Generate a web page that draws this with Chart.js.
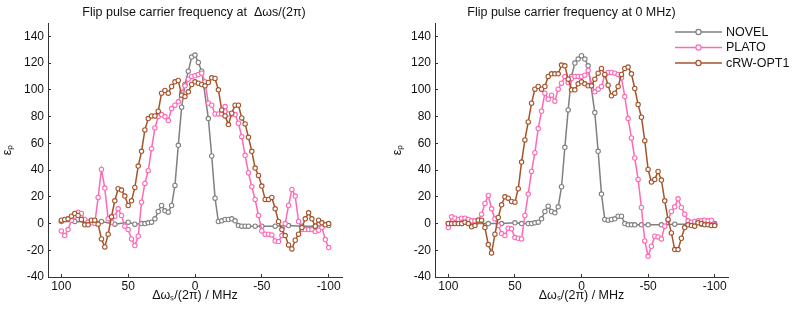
<!DOCTYPE html>
<html><head><meta charset="utf-8">
<script src="https://cdn.jsdelivr.net/npm/chart.js@4.4.1/dist/chart.umd.min.js"></script>
<style>
html,body{margin:0;padding:0;background:#fff;}
#wrap{position:relative;width:793px;height:312px;overflow:hidden;background:#fff;}
canvas{position:absolute;top:0;}
#c1{left:0;} #c2{left:390px;}
</style></head><body>
<div id="wrap"><canvas id="c1" width="390" height="312"></canvas><canvas id="c2" width="403" height="312"></canvas></div>
<script>
// Frequency offsets (MHz) for PLATO and cRW-OPT1
const freq = [100, 97.5, 95, 92.5, 90, 87.5, 85, 82.5, 80, 77.5,
  75, 72.5, 70, 67.5, 65, 62.5, 60, 57.5, 55, 52.5,
  50, 47.5, 45, 42.5, 40, 37.5, 35, 32.5, 30, 27.5,
  25, 22.5, 20, 17.5, 15, 12.5, 10, 7.5, 5, 2.5,
  0, -2.5, -5, -7.5, -10, -12.5, -15, -17.5, -20, -22.5,
  -25, -27.5, -30, -32.5, -35, -37.5, -40, -42.5, -45, -47.5,
  -50, -52.5, -55, -57.5, -60, -62.5, -65, -67.5, -70, -72.5,
  -75, -77.5, -80, -82.5, -85, -87.5, -90, -92.5, -95, -97.5,
  -100];
// Frequency offsets (MHz) for NOVEL
const novelFreq = [100, 90, 80, 70, 60, 50, 45, 40, 37.5, 35,
  32.5, 30, 27.5, 25, 22.5, 20, 17.5, 15, 12.5, 10,
  7.5, 5, 2.5, 0, -2.5, -5, -10, -12.5, -15, -17.5,
  -20, -22.5, -25, -27.5, -30, -32.5, -35, -37.5, -40, -45,
  -50, -60, -70, -80, -90, -100];

// Left panel: flip pulse carrier at Δωs/(2π)
const leftNovel = [1.5, 1.5, 1, 1.5, -0.5, 1, -0.5, 0, 0, 0.5,
  1, 3.5, 9, 13.5, 9.5, 8.5, 13.5, 28.5, 58.5, 87,
  104, 114, 124.5, 126, 120.5, 114, 78.5, 50.5, 19, 1.5,
  2, 3, 3, 3.5, 2, -1.5, -2, -2, -2, -2,
  -2, -2, -1.5, -2, -2, -1.5];
const leftPlato = [-5.5, -9, -4.5, 2.5, 5.5, 8.5, 7.5, 3, 1, 0.5,
  0, 19.5, 40.5, 26.5, 3.5, 1, 5.5, 11, 6, -2,
  -4.5, -11.5, -16.5, -9.5, 16, 30, 39.5, 56, 71.5, 80,
  81.5, 80, 77, 86, 88.5, 91, 98, 103, 108, 110,
  110.5, 111.5, 112.5, 106, 90, 88.5, 82, 82, 82, 87.5,
  82, 82, 81.5, 75, 65, 51, 38, 27.5, 18, 6,
  -5.5, -8, -8, -8.5, -13, -13.5, -9, 0, 13.5, 25.5,
  20.5, 1.5, -4.5, -4.5, -4.5, -4.5, -6, -5, -3, -12,
  -18];
const leftCrw = [2.5, 3, 3.5, 5.5, 7.5, 6, 3, -1, -1, 2.5,
  2.5, -0.5, -11.5, -17.5, -8, 5, 17, 26, 25, 20.5,
  13.5, 17, 27, 43, 54, 70, 78.5, 80.5, 80.5, 84,
  97.5, 99.5, 97.5, 102.5, 106, 107, 96, 95, 98.5, 104,
  106, 105, 104, 103, 105.5, 109, 108.5, 100, 85, 80.5,
  74, 82.5, 88.5, 88.5, 79, 74.5, 64.5, 54, 41.5, 36,
  28, 18, 18, 19.5, 11, 1.5, -4.5, -9, -16, -19,
  -12.5, -8, -3, 3.5, 8, 3.5, -2, 2.5, 0.5, -1,
  0];

// Right panel: flip pulse carrier at 0 MHz
const rightNovel = [0, 0, 0, 0, 0, 0.5, 0, 0, 0, 0.5,
  1, 3.5, 9, 13, 9, 8, 12.5, 27.5, 57, 85,
  110, 120, 123, 125.5, 123, 118, 83, 54, 22, 3,
  2.5, 3, 3.5, 5.5, 5.5, 0, -1, -1, -1, -1,
  -1, -1, -0.5, -0.5, -0.5, 0];
const rightPlato = [-3, 5, 4, 3, 4, 4, 3, 2, 2, 2.5,
  7, 15, 21, 11, 3.5, -1.5, -7.5, -9, -3.5, -4,
  -10.5, -11, -11.5, 6, 22, 39, 53, 71, 84, 97.5,
  93, 96, 91.5, 100.5, 105, 110, 105.5, 108.5, 110, 110,
  110, 111, 114.5, 104, 98.5, 100.5, 102.5, 111, 113, 113,
  112.5, 111.5, 109, 95, 78.5, 64, 49, 33, 12, -13,
  -24.5, -17, -9.5, -10, -11.5, -2, 2.5, 9, 12.5, 18.5,
  12, 7, 2, 1, 1.5, 2, 2, 2.5, 2, 2.5,
  -1];
const rightCrw = [0, 0, 0, 0, 0, 1, 0, -2.5, -1.5, 2.5,
  2.5, -3, -15.75, -22, -8, 4.5, 14, 20, 19, 16.5,
  16, 26, 46, 62.5, 76, 90, 100.5, 102.5, 100.5, 102.5,
  110, 112, 112, 112, 118.5, 118, 108, 100, 100, 104.5,
  106, 104.5, 103, 103, 108, 112.5, 116, 111.5, 103.5, 95.5,
  97.5, 102.5, 111.5, 116, 117, 112, 101, 89, 79.5, 62,
  40.5, 31, 33, 39, 32.5, 17, 3, -7, -19.5, -19.5,
  -11, -3, -1, -1.5, -2, 0.5, 0, -1, -1, -1.5,
  -1.5];

const seriesNames = ['NOVEL', 'PLATO', 'cRW-OPT1'];
const seriesColors = ['#808080', '#ff69b4', '#a5532a'];
const xTicks = [100, 50, 0, -50, -100];
const yTicks = [-40, -20, 0, 20, 40, 60, 80, 100, 120, 140];
const panelTitles = ['Flip pulse carrier frequency at  \u0394\u03c9s/(2\u03c0)', 'Flip pulse carrier frequency at 0 MHz)'];
const xTitle = '\u0394\u03c9\u209b/(2\u03c0) / MHz';
const yTitle = '\u03b5\u209a';

const FONT = '"Liberation Sans", Arial, Helvetica, sans-serif';
const AXIS_COLOR = '#333333';
const TEXT_COLOR = '#111111';

function pts(xs, ys) { return xs.map((x, i) => ({x: x, y: ys[i]})); }

function mkDataset(i, xs, ys) {
  return {
    label: seriesNames[i],
    data: pts(xs, ys),
    borderColor: seriesColors[i],
    backgroundColor: seriesColors[i],
    borderWidth: 1.5,
    pointRadius: 2.2,
    pointBorderWidth: 1.1,
    pointBackgroundColor: '#ffffff',
    pointBorderColor: seriesColors[i],
    tension: 0,
    order: 2 - i
  };
}

const titleShift = {
  id: 'titleShift',
  afterLayout(chart, args, opts) {
    const t = chart.titleBlock;
    if (t && opts && opts.dx) { t.left += opts.dx; t.right += opts.dx; }
  }
};

const customLegend = {
  id: 'customLegend',
  afterDraw(chart, args, opts) {
    if (!opts || !opts.show) return;
    const ctx = chart.ctx;
    ctx.save();
    chart.data.datasets.forEach((ds, i) => {
      const y = opts.y0 + i * opts.dy;
      const x0 = opts.x0, x1 = opts.x1;
      ctx.strokeStyle = ds.borderColor;
      ctx.lineWidth = 1.5;
      ctx.beginPath(); ctx.moveTo(x0, y); ctx.lineTo(x1, y); ctx.stroke();
      ctx.beginPath(); ctx.arc((x0 + x1) / 2, y, 2.6, 0, Math.PI * 2);
      ctx.fillStyle = '#ffffff'; ctx.fill();
      ctx.lineWidth = 1.2; ctx.stroke();
      ctx.fillStyle = TEXT_COLOR;
      ctx.font = '12.5px ' + FONT;
      ctx.textBaseline = 'middle';
      ctx.textAlign = 'left';
      ctx.fillText(ds.label, opts.tx, y + 0.5);
    });
    ctx.restore();
  }
};

function makeChart(canvasId, title, novel, plato, crw, yAxisWidth, padRight, titleDx, legendOpts) {
  return new Chart(document.getElementById(canvasId), {
    type: 'line',
    data: {
      datasets: [
        mkDataset(0, novelFreq, novel),
        mkDataset(1, freq, plato),
        mkDataset(2, freq, crw)
      ]
    },
    options: {
      responsive: false,
      animation: false,
      devicePixelRatio: 1,
      layout: { padding: { left: 0, right: padRight, top: 0, bottom: 0 } },
      plugins: {
        legend: { display: false },
        tooltip: { enabled: false },
        title: {
          display: true,
          text: title,
          fullSize: false,
          color: TEXT_COLOR,
          font: { family: FONT, size: 12.5, weight: 'normal', lineHeight: 1.2 },
          padding: { top: 5, bottom: 3 }
        },
        titleShift: { dx: titleDx },
        customLegend: legendOpts
      },
      scales: {
        x: {
          type: 'linear',
          reverse: true,
          min: -110,
          max: 110,
          afterBuildTicks: (axis) => { axis.ticks = xTicks.map(v => ({ value: v })); },
          afterFit: (axis) => { axis.height = 35; },
          ticks: {
            color: TEXT_COLOR,
            font: { family: FONT, size: 12 },
            padding: 5.5,
            maxRotation: 0,
            autoSkip: false
          },
          grid: { drawOnChartArea: false, drawTicks: true, tickLength: -3, color: AXIS_COLOR, lineWidth: 1 },
          border: { display: true, color: AXIS_COLOR, width: 1 },
          title: {
            display: true,
            text: xTitle,
            color: TEXT_COLOR,
            font: { family: FONT, size: 12.5, lineHeight: 1.2 },
            padding: { top: 0, bottom: 9 }
          }
        },
        y: {
          type: 'linear',
          min: -40,
          max: 150,
          afterBuildTicks: (axis) => { axis.ticks = yTicks.map(v => ({ value: v })); },
          afterFit: (axis) => { axis.width = yAxisWidth; },
          ticks: {
            color: TEXT_COLOR,
            font: { family: FONT, size: 12 },
            padding: 7,
            autoSkip: false
          },
          grid: { drawOnChartArea: false, drawTicks: true, tickLength: -3, color: AXIS_COLOR, lineWidth: 1 },
          border: { display: true, color: AXIS_COLOR, width: 1 },
          title: {
            display: true,
            text: yTitle,
            color: TEXT_COLOR,
            font: { family: FONT, size: 12.5, lineHeight: 1.2 },
            padding: { top: 0, bottom: 0 }
          }
        }
      }
    },
    plugins: [titleShift, customLegend]
  });
}

makeChart('c1', panelTitles[0], leftNovel, leftPlato, leftCrw, 48, 48, -1, { show: false });
makeChart('c2', panelTitles[1], rightNovel, rightPlato, rightCrw, 45, 65, -10,
  { show: true, x0: 285, x1: 332, tx: 336, y0: 32, dy: 15.5 });
</script>
</body></html>
